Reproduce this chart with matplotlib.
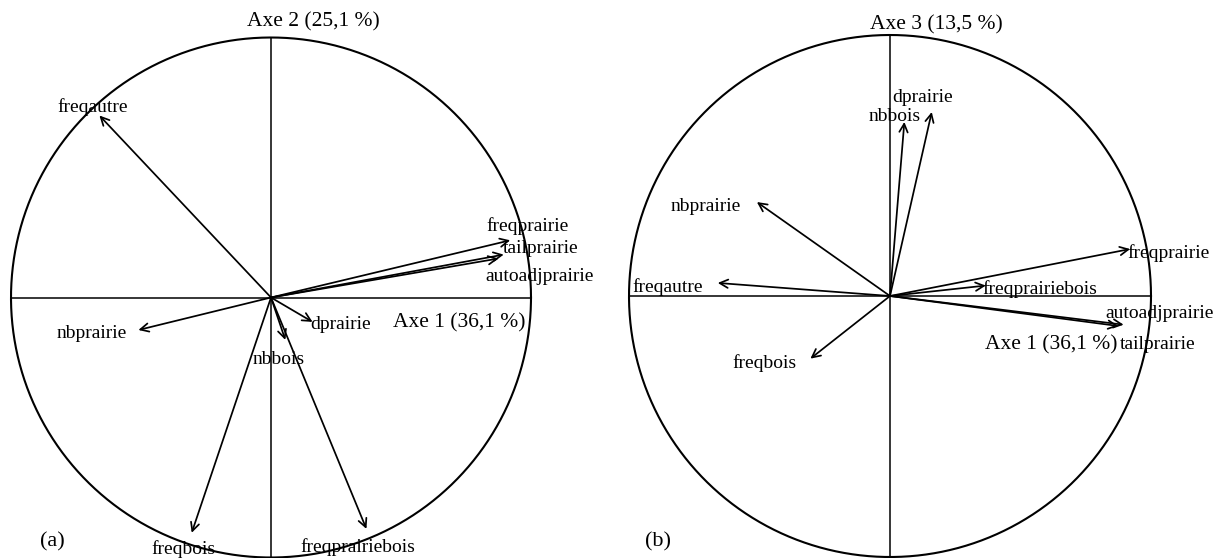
import numpy as np
import matplotlib
matplotlib.use("Agg")
import matplotlib.pyplot as plt

# variables et coordonnées sur les axes factoriels
variables = ["freqautre", "freqprairie", "tailprairie", "autoadjprairie", "nbprairie",
             "dprairie", "nbbois", "freqbois", "freqprairiebois"]
axe1 = [-0.66, 0.92, 0.895, 0.875, -0.51, 0.16, 0.055, -0.305, 0.367]
axe2 = [0.70, 0.22, 0.165, 0.15, -0.125, -0.094, -0.163, -0.905, -0.89]
axe3 = [0.05, 0.18, -0.11, -0.115, 0.36, 0.705, 0.667, -0.24, 0.04]

titre_axe1 = "Axe 1 (36,1 %)"
titre_axe2 = "Axe 2 (25,1 %)"
titre_axe3 = "Axe 3 (13,5 %)"

plt.rcParams['font.family'] = ['Liberation Serif', 'DejaVu Serif']

W, H = 1217, 558
fig = plt.figure(figsize=(W / 100, H / 100), dpi=100)

# décalage des étiquettes (en pixels) par rapport à la pointe de la flèche
decal_a = {"freqautre": (-7, 8), "freqprairie": (17, 14), "tailprairie": (37, 6),
           "autoadjprairie": (41, -18), "nbprairie": (-47, -3), "dprairie": (28, -3),
           "nbbois": (-7, -20), "freqbois": (-8, -16), "freqprairiebois": (-9, -18)}
decal_b = {"freqautre": (-50, -4), "freqprairie": (38, -4), "tailprairie": (34, -20),
           "autoadjprairie": (41, 13), "nbprairie": (-51, -4), "dprairie": (-9, 14),
           "nbbois": (-10, 5), "freqbois": (-46, -4), "freqprairiebois": (54, -4)}


def cercle(x0, x1, cx, cy, r, xs, ys, decal):
    # axe couvrant la bande de pixels [x0, x1] de la figure
    ax = fig.add_axes([x0 / W, 0, (x1 - x0) / W, 1])
    ax.set_xlim((x0 - cx) / r, (x1 - cx) / r)
    ax.set_ylim((cy - H) / r, cy / r)
    ax.axis("off")
    t = np.linspace(0, 2 * np.pi, 400)
    ax.plot(np.cos(t), np.sin(t), color="black", lw=1.5)
    ax.plot([-1, 1], [0, 0], color="black", lw=1.1)
    ax.plot([0, 0], [-1, 1], color="black", lw=1.1)
    for nom, x, y in zip(variables, xs, ys):
        ax.annotate("", xy=(x, y), xytext=(0, 0),
                    arrowprops=dict(arrowstyle="->", lw=1.25, color="black",
                                    shrinkA=0, shrinkB=0, mutation_scale=15))
        ax.annotate(nom, xy=(x, y), xytext=decal[nom], textcoords="offset pixels",
                    ha="center", va="center", fontsize=14, annotation_clip=False)
    return ax


cercle(0, 608, 271, 297.5, 260, axe1, axe2, decal_a)
cercle(608, W, 890, 296, 261, axe1, axe3, decal_b)

fig.text(313.5 / W, 1 - 22 / H, titre_axe2, ha="center", va="center", fontsize=15.5)
fig.text(459 / W, 1 - 323 / H, titre_axe1, ha="center", va="center", fontsize=15.5)
fig.text(936 / W, 1 - 25 / H, titre_axe3, ha="center", va="center", fontsize=15.5)
fig.text(1051.5 / W, 1 - 345 / H, titre_axe1, ha="center", va="center", fontsize=15.5)
fig.text(52.5 / W, 1 - 542 / H, "(a)", ha="center", va="center", fontsize=16)
fig.text(658.5 / W, 1 - 542 / H, "(b)", ha="center", va="center", fontsize=16)

fig.savefig("out.png", dpi=100)
